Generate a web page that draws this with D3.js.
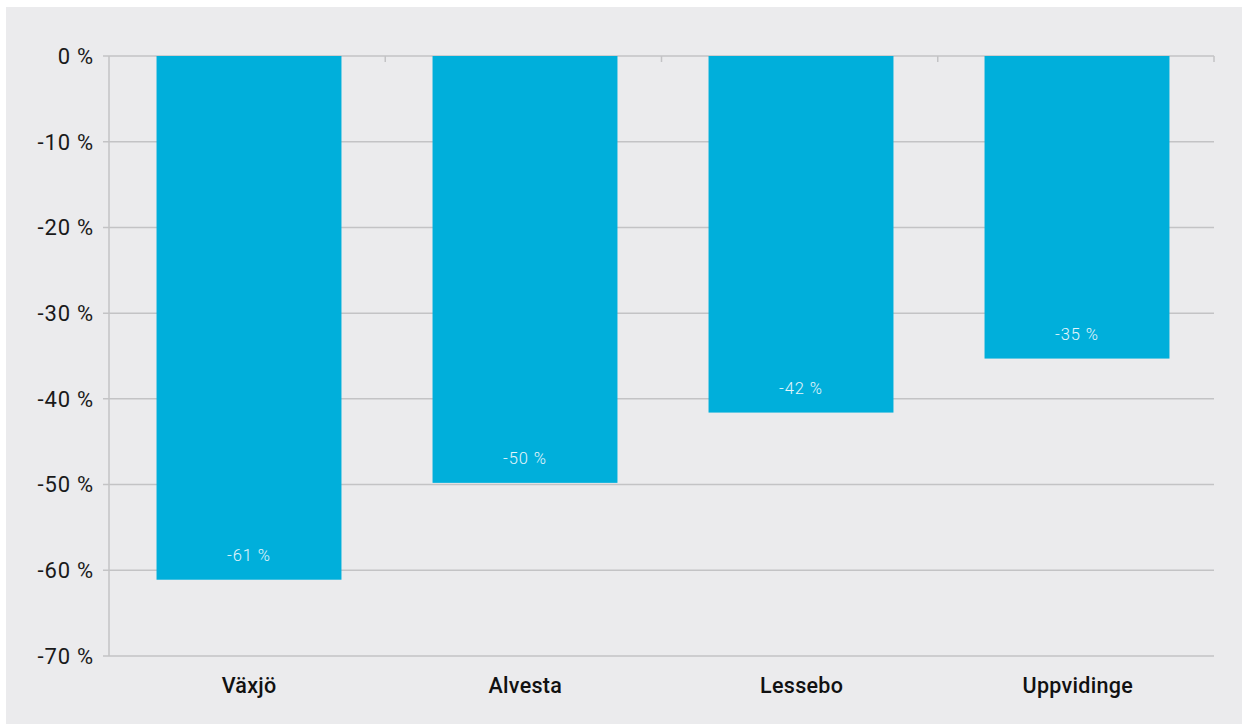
<!DOCTYPE html>
<html><head><meta charset="utf-8">
<script src="https://cdn.jsdelivr.net/npm/d3@7"></script>
<style>
body{margin:0;background:#fff;}
svg{display:block;}
</style></head>
<body><svg id="c" width="1242" height="725"></svg>
<script>
const categories = ["Växjö", "Alvesta", "Lessebo", "Uppvidinge"];
const values = [-61.1, -49.8, -41.6, -35.3];
const valueLabels = ["-61 %", "-50 %", "-42 %", "-35 %"];
const yTicks = [0, -10, -20, -30, -40, -50, -60, -70];

(function(){
const svg = d3.select("#c");
svg.append("rect").attr("x",6).attr("y",7).attr("width",1236).attr("height",717).attr("fill","#ebebed");

const pLeft=109, pRight=1214, pTop=56, pBottom=656;
const x = d3.scaleBand().domain(categories).range([pLeft+2,pRight+1]).paddingInner(0.33).paddingOuter(0.165);
const xb = d3.scaleBand().domain(categories).range([pLeft,pRight]);
const y = d3.scaleLinear().domain([0,-70]).range([pTop,pBottom]);

const grid = "#c3c3c5";
svg.append("g").selectAll("line").data(yTicks).join("line")
  .attr("x1",pLeft-6).attr("x2",pRight).attr("y1",d=>y(d)).attr("y2",d=>y(d))
  .attr("stroke",grid).attr("stroke-width",1.5);
svg.append("line").attr("x1",pLeft).attr("x2",pLeft).attr("y1",pTop).attr("y2",pBottom).attr("stroke",grid).attr("stroke-width",1.5);
svg.append("g").selectAll("text").data(yTicks).join("text")
  .attr("x",94).attr("y",d=>y(d)).attr("dy","0.36em").attr("text-anchor","end")
  .attr("font-family","Roboto, sans-serif").attr("font-size",22).attr("letter-spacing",0.8).attr("fill","#1a1a1a")
  .text(d=>d+" %");

svg.append("g").selectAll("rect").data(values).join("rect")
  .attr("x",(d,i)=>x(categories[i])).attr("width",x.bandwidth())
  .attr("y",y(0)).attr("height",d=>y(d)-y(0)).attr("fill","#00afdb");

const tickX = categories.map(c=>xb(c)).concat([pRight]).slice(1);
svg.append("g").selectAll("line").data(tickX).join("line")
  .attr("x1",d=>d).attr("x2",d=>d).attr("y1",pTop).attr("y2",pTop+6)
  .attr("stroke",grid).attr("stroke-width",1.5);

svg.append("g").selectAll("text").data(values).join("text")
  .attr("x",(d,i)=>x(categories[i])+x.bandwidth()/2).attr("y",d=>y(d)-19)
  .attr("text-anchor","middle").attr("font-family","Roboto, sans-serif").attr("font-weight",300)
  .attr("font-size",16.5).attr("letter-spacing",0.9).attr("fill","#e6f6fb").text((d,i)=>valueLabels[i]);

svg.append("g").selectAll("text").data(categories).join("text")
  .attr("x",d=>xb(d)+xb.bandwidth()/2+2).attr("y",693)
  .attr("text-anchor","middle").attr("font-family","Roboto, sans-serif").attr("font-weight",500)
  .attr("font-size",21.5).attr("letter-spacing",0.3).attr("fill","#111").text(d=>d);
})();
</script></body></html>
